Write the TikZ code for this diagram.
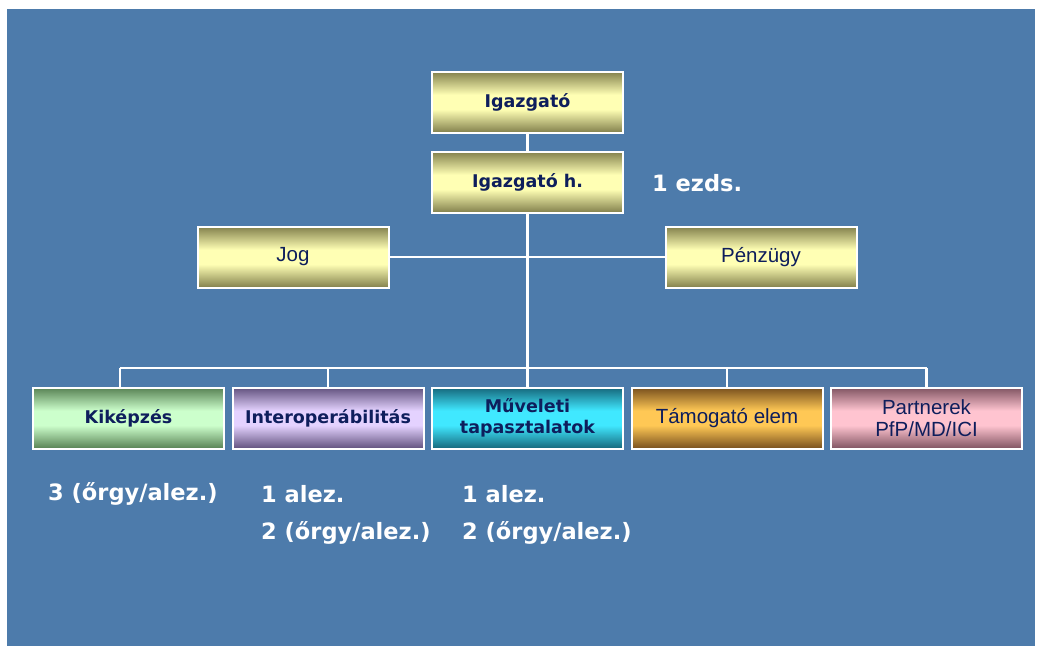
\documentclass[tikz,border=0pt]{standalone}
\usepackage{fontspec}
\setmainfont{Liberation Sans}
\newfontfamily\boldface{DejaVu Sans}[BoldFont={DejaVu Sans Bold}]
\definecolor{bgblue}{RGB}{77,123,171}
\definecolor{navy}{RGB}{14,30,92}
\definecolor{ydark}{RGB}{130,128,76}
\definecolor{ylight}{RGB}{255,255,180}
\definecolor{gdark}{RGB}{88,130,84}
\definecolor{glight}{RGB}{204,255,204}
\definecolor{pdark}{RGB}{98,82,126}
\definecolor{plight}{RGB}{228,210,255}
\definecolor{cdark}{RGB}{22,104,124}
\definecolor{clight}{RGB}{64,232,255}
\definecolor{odark}{RGB}{120,80,30}
\definecolor{olight}{RGB}{255,200,85}
\definecolor{kdark}{RGB}{128,84,98}
\definecolor{klight}{RGB}{255,196,208}
% gradient band fill behind a box: #1,#2 centre, #3 dark, #4 light
\newcommand\bandfill[4]{%
  \foreach \i in {0,...,60}{%
    \pgfmathsetmacro\bandT{(\i+0.5)/61}%
    \pgfmathsetmacro\bandP{100*min(1,min(\bandT/0.38,(1-\bandT)/0.38))}%
    \fill[#4!\bandP!#3] ({#1-95.5},{#2-30.5+\i}) rectangle ({#1+95.5},{#2-30.5+\i+1.2});
  }}
\tikzset{
  boxbase/.style={draw=white, line width=2pt, minimum width=191pt, minimum height=61pt,
    inner sep=0pt, outer sep=0pt, align=center, text=navy},
  boldtxt/.style={font=\boldface\bfseries\fontsize{17.5}{21}\selectfont},
  regtxt/.style={font=\fontsize{20.5}{22}\selectfont},
  wtxt/.style={text=white, anchor=west, inner sep=0pt, font=\boldface\bfseries\fontsize{22.5}{26}\selectfont},
  conn/.style={draw=white, line width=2.5pt},
}
\begin{document}
\begin{tikzpicture}[x=1pt,y=-1pt]
\useasboundingbox (0,0) rectangle (1038,650);
\fill[white] (0,0) rectangle (1038,650);
\fill[bgblue] (7,9) rectangle (1035,646);
% box backgrounds
\bandfill{527.5}{102.5}{ydark}{ylight}
\bandfill{527.5}{182}{ydark}{ylight}
\bandfill{293}{257}{ydark}{ylight}
\bandfill{761}{257}{ydark}{ylight}
\bandfill{128.5}{418}{gdark}{glight}
\bandfill{328}{418}{pdark}{plight}
\bandfill{527.5}{418}{cdark}{clight}
\bandfill{727}{418}{odark}{olight}
\bandfill{926.5}{418}{kdark}{klight}
% top boxes
\node[boxbase, boldtxt] (ig) at (527.5,102.5) {Igazgató};
\node[boxbase, boldtxt] (ih) at (527.5,182) {Igazgató h.};
\node[boxbase, regtxt] (jog) at (293,257) {Jog};
\node[boxbase, regtxt] (penz) at (761,257) {Pénzügy};
% bottom boxes
\node[boxbase, boldtxt] (kik) at (128.5,418) {Kiképzés};
\node[boxbase, boldtxt] (inter) at (328,418) {Interoperábilitás};
\node[boxbase, boldtxt] (muv) at (527.5,418) {Műveleti\\tapasztalatok};
\node[boxbase, regtxt] (tam) at (727,418) {Támogató elem};
\node[boxbase, regtxt] (part) at (926.5,418) {Partnerek\\PfP/MD/ICI};
% bus coordinates
\coordinate (busc) at (527.5,368);
\coordinate (b1) at (120,368);
\coordinate (b5) at (926.5,368);
% connectors
\draw[conn] (ig.south) -- (ih.north);
\draw[conn] (ih.south) -- (busc);
\draw[conn] (jog.east) -- (penz.west);
\draw[conn] (b1) -- (b5);
\draw[conn] (b1) -- (b1 |- kik.north);
\draw[conn] (inter.north) -- (inter.north |- busc);
\draw[conn] (muv.north) -- (busc);
\draw[conn] (tam.north) -- (tam.north |- busc);
\draw[conn] (part.north) -- (b5);
% white labels
\node[wtxt] (ez) at (652,183) {1 ezds.};
\node[wtxt] (t1) at (48,494) {3 (őrgy/alez.)};
\node[wtxt] (t2) at (261,494) {1 alez.};
\node[wtxt] (t3) at (261,533) {2 (őrgy/alez.)};
\node[wtxt] (t4) at (462,494) {1 alez.};
\node[wtxt] (t5) at (462,533) {2 (őrgy/alez.)};
\end{tikzpicture}
\end{document}
